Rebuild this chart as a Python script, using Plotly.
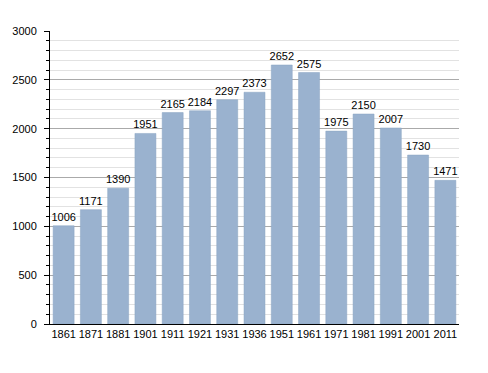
import plotly.graph_objects as go

years = ["1861", "1871", "1881", "1901", "1911", "1921", "1931", "1936",
         "1951", "1961", "1971", "1981", "1991", "2001", "2011"]
population = [1006, 1171, 1390, 1951, 2165, 2184, 2297, 2373,
              2652, 2575, 1975, 2150, 2007, 1730, 1471]
y_ticks = [0, 500, 1000, 1500, 2000, 2500, 3000]

FONT = "Liberation Sans, Arial, sans-serif"

fig = go.Figure(go.Bar(
    x=years, y=population,
    text=[str(v) for v in population],
    textposition="outside",
    constraintext="none",
    textfont=dict(size=11, color="black", family=FONT),
    cliponaxis=False,
    marker=dict(color="#9ab2cf", line=dict(color="#8ba4c2", width=0.5)),
))

fig.update_layout(
    width=480, height=365,
    margin=dict(l=42, r=29, t=23, b=49),
    paper_bgcolor="white", plot_bgcolor="white",
    bargap=0.23,
    showlegend=False,
    font=dict(family=FONT, size=11, color="black"),
    xaxis=dict(
        type="category", showline=True, linecolor="black", linewidth=1,
        ticks="", showgrid=False, tickfont=dict(size=11), tickangle=0,
        automargin=False,
    ),
    yaxis=dict(
        range=[0, 3000], tickvals=y_ticks, showline=True, linecolor="black",
        linewidth=1, ticks="outside", ticklen=5, tickcolor="black",
        ticklabelstandoff=5, automargin=False,
        showgrid=True, gridcolor="#aaaaaa", gridwidth=1, zeroline=False,
        tickfont=dict(size=11),
        minor=dict(dtick=100, ticks="outside", ticklen=3, tickcolor="black",
                   showgrid=True, gridcolor="#e2e2e2", gridwidth=1),
    ),
)

fig.write_html("out.html")
